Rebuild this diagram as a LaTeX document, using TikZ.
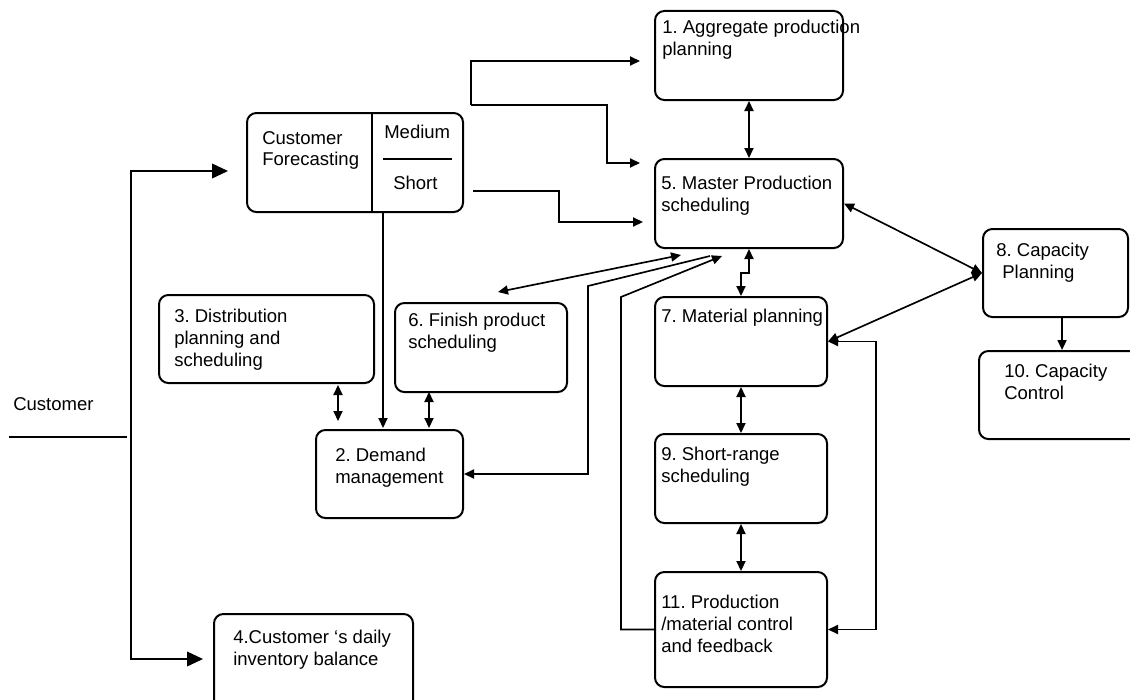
\documentclass[tikz,border=0pt]{standalone}
\usepackage{fontspec}
\setmainfont{Liberation Sans}
\usetikzlibrary{arrows.meta,fit}
\frenchspacing
\begin{document}
\begin{tikzpicture}[x=0.75pt,y=-0.75pt,
  box/.style={draw, line width=1.5pt, rounded corners=7pt, inner sep=0pt},
  lbl/.style={anchor=north west, inner sep=0pt, align=left,
              font=\fontsize{13.9pt}{16.3pt}\selectfont},
  link/.style={line width=1.25pt},
  >={Triangle[length=7.5pt,width=6.8pt]},
  bigtip/.style={{Triangle[length=12pt,width=11pt]}-{Triangle[length=12pt,width=11pt]}}
]
\useasboundingbox (0,0) rectangle (1130,699);
\clip (0,0) rectangle (1130,699);
\fill[white] (0,0) rectangle (1130,699);

% boxes
\node[box, fit={(655,11) (843,100)}]   (b1)  {};
\node[box, fit={(655,159) (843,248)}]  (b5)  {};
\node[box, fit={(247,113) (463,212)}]  (fc)  {};
\node[box, fit={(159,295) (374,383)}]  (b3)  {};
\node[box, fit={(395,303) (567,392)}]  (b6)  {};
\node[box, fit={(316,430) (463,518)}]  (b2)  {};
\node[box, fit={(655,297) (827,386)}]  (b7)  {};
\node[box, fit={(655,434) (827,523)}]  (b9)  {};
\node[box, fit={(655,572) (827,687)}]  (b11) {};
\node[box, fit={(983,229) (1128,317)}] (b8)  {};
\node[box, fit={(979,351) (1150,439)}] (b10) {};
\node[box, fit={(214,614) (413,720)}]  (b4)  {};

% forecasting box compartments
\coordinate (vsplit) at (372,0);
\draw[line width=1.5pt] (fc.north -| vsplit) -- (fc.south -| vsplit);
\coordinate (hs1) at (383,159);
\coordinate (hs2) at (452,159);
\draw[link] (hs1) -- (hs2);

% labels
\node[lbl] (t1)  at (662,20)  {1. Aggregate production\\planning};
\node[lbl] (t5)  at (661,176) {5. Master Production\\scheduling};
\node[lbl] (tfc) at (262,131) {Customer\\Forecasting};
\node[lbl] (tmd) at (384,125) {Medium};
\node[lbl] (tsh) at (393,176) {Short};
\node[lbl] (t3)  at (174,309) {3. Distribution\\planning and\\scheduling};
\node[lbl] (t6)  at (408,313) {6. Finish product\\scheduling};
\node[lbl] (t2)  at (335,448) {2. Demand\\management};
\node[lbl] (t7)  at (661,309) {7. Material planning};
\node[lbl] (t9)  at (661,447) {9. Short-range\\scheduling};
\node[lbl] (t11) at (661,595) {11. Production\\/material control\\and feedback};
\node[lbl] (t8)  at (996,243) {8. Capacity\\\hspace*{4.5pt}Planning};
\node[lbl] (t10) at (1004,364) {10. Capacity\\Control};
\node[lbl] (t4)  at (233,630) {4.Customer ‘s daily\\inventory balance};
\node[lbl] (tcu) at (13,397)  {Customer};

% customer line and feeds
\coordinate (cu1) at (9,437);
\coordinate (cu2) at (127,437);
\draw[link] (cu1) -- (cu2);
\coordinate (cA) at (228,171);
\coordinate (j1) at (131,171);
\coordinate (j2) at (131,659);
\coordinate (cB) at (203,659);
\draw[link, bigtip] (cA) -- (j1) -- (j2) -- (cB);

% forecasting outputs
\coordinate (f1) at (471,105);
\coordinate (r1) at (607,105);
\coordinate (a1) at (640,61);
\coordinate (a5) at (640,163);
\draw[link,->] (f1) |- (a1);
\draw[link,->] (f1) -- (r1) |- (a5);
\coordinate (f2) at (473,191);
\coordinate (r2) at (559,191);
\coordinate (a6) at (643,222);
\draw[link,->] (f2) -- (r2) |- (a6);
\coordinate (d1) at (383,428);
\draw[link,->] (fc.south -| d1) -- (d1);

% demand management links
\coordinate (e1) at (338,385);
\coordinate (e2) at (338,421);
\draw[link,<->] (e1) -- (e2);
\coordinate (g1) at (429,392);
\coordinate (g2) at (429,428);
\draw[link,<->] (g1) -- (g2);

% links into master production scheduling
\draw[link,<->] (b1.south) -- (b5.north);
\coordinate (c6) at (498,292);
\coordinate (c5) at (681,255);
\draw[link,<->] (c6) -- (c5);
\coordinate (k1) at (588,286);
\coordinate (k2) at (710,256);
\draw[link,<-] (b2.east) -| (k1) -- (k2);
\coordinate (k3) at (621,297);
\coordinate (k4) at (722,256);
\draw[link,->] (b11.west) -| (k3) -- (k4);
\draw[link,<->] (b5.south) -- ++(0,24) -| (b7.north);

% material chain
\draw[link,<->] (b7.south) -- (b9.north);
\draw[link,<->] (b9.south) -- (b11.north);
\draw[link,<->] (b7.east) -- ++(48,0) |- (b11.east);

% capacity
\draw[link,<->] (b5.east) -- (b8.west);
\draw[link,<->] (b7.east) -- (b8.west);
\draw[link,->] ([xshift=4.9pt]b8.south) -- ([xshift=4.9pt]b8.south |- b10.north);
\end{tikzpicture}
\end{document}
